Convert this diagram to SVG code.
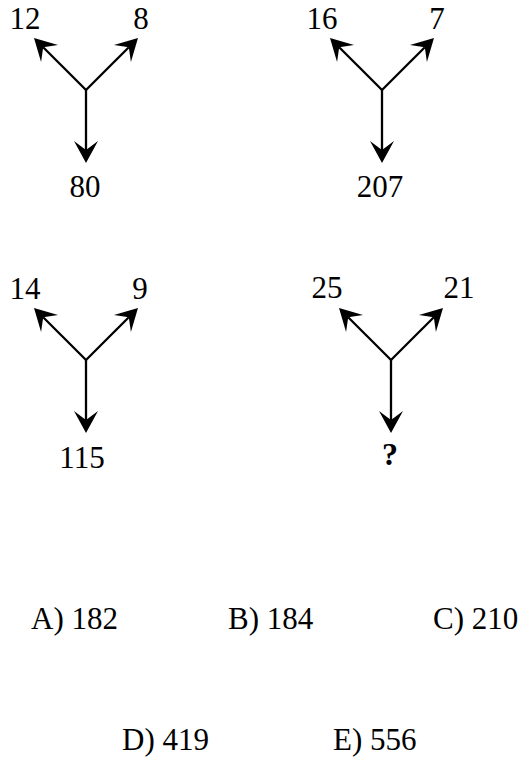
<svg xmlns="http://www.w3.org/2000/svg" width="531" height="765" viewBox="0 0 531 765">
<style>
  text { font-family: "Liberation Serif", "Times New Roman", serif; font-size: 31px; fill: #000; }
  .c { text-anchor: middle; }
  .q { font-weight: bold; font-size: 32px; }
  .arr { stroke: #000; stroke-width: 2.3; fill: none; marker-end: url(#ah); }
</style>
<defs>
  <marker id="ah" viewBox="-23 -14 25 28" markerWidth="25" markerHeight="28" refX="-13" refY="0" orient="auto" markerUnits="userSpaceOnUse">
    <path d="M0,0 L-22,-12 L-13,0 L-22,12 Z" fill="#000"/>
  </marker>
</defs>
<rect width="531" height="765" fill="#fff"/>
<g id="connectors">
  <line class="arr" x1="86" y1="90" x2="43.2" y2="47.2"/>
  <line class="arr" x1="86" y1="90" x2="128.8" y2="47.2"/>
  <line class="arr" x1="86" y1="89" x2="86" y2="150"/>
  <line class="arr" x1="382" y1="90" x2="339.2" y2="47.2"/>
  <line class="arr" x1="382" y1="90" x2="424.8" y2="47.2"/>
  <line class="arr" x1="382" y1="89" x2="382" y2="150"/>
  <line class="arr" x1="86" y1="360" x2="43.2" y2="317.2"/>
  <line class="arr" x1="86" y1="360" x2="128.8" y2="317.2"/>
  <line class="arr" x1="86" y1="359" x2="86" y2="420"/>
  <line class="arr" x1="391" y1="360" x2="348.2" y2="317.2"/>
  <line class="arr" x1="391" y1="360" x2="433.8" y2="317.2"/>
  <line class="arr" x1="391" y1="359" x2="391" y2="420"/>
</g>
<g id="n12"><text class="c" x="25" y="29">12</text></g>
<g id="n8"><text class="c" x="141" y="29">8</text></g>
<g id="n80"><text class="c" x="85" y="197">80</text></g>
<g id="n16"><text class="c" x="322" y="29">16</text></g>
<g id="n7"><text class="c" x="437" y="29">7</text></g>
<g id="n207"><text class="c" x="380" y="197">207</text></g>
<g id="n14"><text class="c" x="25" y="299">14</text></g>
<g id="n9"><text class="c" x="140" y="299">9</text></g>
<g id="n115"><text class="c" x="82" y="468">115</text></g>
<g id="n25"><text class="c" x="327" y="298">25</text></g>
<g id="n21"><text class="c" x="459" y="298">21</text></g>
<g id="nq"><text class="c q" x="390" y="465">?</text></g>
<g id="optA"><text x="31" y="629">A) 182</text></g>
<g id="optB"><text x="228" y="629">B) 184</text></g>
<g id="optC"><text x="433" y="629">C) 210</text></g>
<g id="optD"><text x="122" y="750">D) 419</text></g>
<g id="optE"><text x="333" y="750">E) 556</text></g>
</svg>
